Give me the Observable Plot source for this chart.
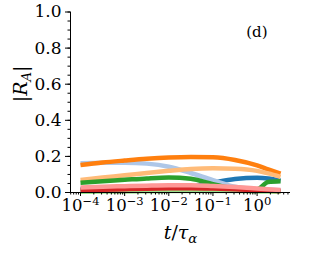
<!DOCTYPE html>
<html><head><meta charset="utf-8">
<script src="https://cdn.jsdelivr.net/npm/d3@7"></script>
<script src="https://cdn.jsdelivr.net/npm/@observablehq/plot@0.6"></script>
<style>
body{margin:0;background:#fff}
svg{display:block}
</style>
</head><body><div id="chart"></div>
<script>
const times = [1e-4, 3.16e-4, 1e-3, 3.16e-3, 1e-2, 3.16e-2, 0.1, 0.316, 1, 1.78, 3.4];
const blueVals        = [0.020,0.022,0.024,0.026,0.028,0.032,0.055,0.075,0.082,0.078,0.066];
const lightBlueVals   = [0.162,0.165,0.165,0.160,0.143,0.108,0.068,0.032,0.018,0.015,0.012];
const orangeVals      = [0.152,0.166,0.177,0.187,0.194,0.197,0.195,0.180,0.150,0.128,0.104];
const lightOrangeVals = [0.070,0.083,0.095,0.108,0.120,0.130,0.134,0.132,0.120,0.106,0.087];
const greenVals       = [0.054,0.062,0.070,0.078,0.083,0.076,0.046,0.022,0.018,0.058,0.062];
const lightGreenVals  = [0.004,0.005,0.006,0.007,0.008,0.009,0.009,0.008,0.006,0.005,0.004];
const redVals         = [0.012,0.015,0.018,0.021,0.023,0.024,0.022,0.018,0.012,0.010,0.008];
const lightRedVals    = [0.028,0.032,0.035,0.038,0.040,0.040,0.036,0.030,0.022,0.018,0.014];

const seriesValues = [blueVals, lightBlueVals, orangeVals, lightOrangeVals, greenVals, lightGreenVals, redVals, lightRedVals];
const seriesColors = ["#1f77b4","#aec7e8","#ff7f0e","#ffbb78","#2ca02c","#98df8a","#d62728","#ff9896"];

const xTicks = [1e-4, 1e-3, 1e-2, 1e-1, 1];
const xTickExponents = ["\u22124","\u22123","\u22122","\u22121","0"];
const yTicks = [0, 0.2, 0.4, 0.6, 0.8, 1.0];
const yTickLabels = ["0.0","0.2","0.4","0.6","0.8","1.0"];
const panelLabel = "(d)";
const xLabelText = "t/τα";
const yLabelText = "|RA|";

const xMinor = [];
for (let e = -5; e <= 0; e++) for (let k = 2; k <= 9; k++) xMinor.push(k * 10 ** e);
const xDomain = [10 ** -4.2265, 10 ** 0.7565];
const xMinorIn = xMinor.filter(v => v >= xDomain[0] && v <= xDomain[1]);
const yMinor = d3.range(0, 21).map(i => i * 0.05);

const marks = [];
seriesValues.forEach((vals, i) => {
  marks.push(Plot.line(vals, {x: (d, j) => times[j], y: d => d, stroke: seriesColors[i], strokeWidth: 4.5, curve: "monotone-x", strokeLinecap: "butt"}));
});
marks.push(
  Plot.ruleX([xDomain[0]], {stroke: "#000", strokeWidth: 1}),
  Plot.ruleY([0], {stroke: "#000", strokeWidth: 1}),
  Plot.axisY({ticks: yMinor, tickSize: 2.5, tickFormat: () => "", label: null}),
  Plot.axisY({ticks: yTicks, tickSize: 5, tickPadding: 4, tickFormat: (d, i) => yTickLabels[i], fontSize: 17, label: null}),
  Plot.axisX({ticks: xMinorIn, tickSize: 2.5, tickFormat: () => "", label: null}),
  Plot.axisX({ticks: xTicks, tickSize: 4, tickPadding: 3, tickFormat: () => "10", fontSize: 16.5, label: null}),
  Plot.text([xLabelText], {frameAnchor: "bottom", dy: 46, fontSize: 19}),
  Plot.text([yLabelText], {frameAnchor: "left", dx: -50, rotate: -90, fontSize: 19}),
  Plot.text([panelLabel], {frameAnchor: "top-right", dx: -23, dy: 14, fontSize: 15})
);

const chart = Plot.plot({
  width: 311, height: 256,
  marginLeft: 70, marginRight: 21, marginTop: 11.5, marginBottom: 64,
  x: {type: "log", domain: xDomain},
  y: {domain: [0, 1]},
  style: {background: "#fff", color: "#000", fontFamily: "DejaVu Serif"},
  marks
});
document.getElementById("chart").append(chart);

const serifFont = "DejaVu Serif";
chart.querySelectorAll("g").forEach(g => { if (g.getAttribute("font-family")) g.setAttribute("font-family", serifFont); });

let xi = 0;
chart.querySelectorAll("text").forEach(el => {
  el.setAttribute("font-family", serifFont);
  const s = el.textContent;
  const t = d3.select(el);
  if (s === "10") {
    const exp = xTickExponents[xi++];
    t.text(null);
    t.append("tspan").text("10");
    t.append("tspan").attr("dy", "-0.5em").attr("font-size", "0.7em").text(exp);
  } else if (s === xLabelText) {
    t.text(null);
    t.append("tspan").attr("font-style", "italic").text("t");
    t.append("tspan").text("/");
    t.append("tspan").attr("font-style", "italic").text("τ");
    t.append("tspan").attr("font-style", "italic").attr("font-size", "0.7em").attr("dy", "0.3em").text("α");
  } else if (s === yLabelText) {
    t.text(null);
    t.append("tspan").text("|");
    t.append("tspan").attr("font-style", "italic").text("R");
    t.append("tspan").attr("font-style", "italic").attr("font-size", "0.7em").attr("dy", "0.3em").text("A");
    t.append("tspan").attr("dy", "-0.21em").text("|");
  }
});
</script>
</body></html>
